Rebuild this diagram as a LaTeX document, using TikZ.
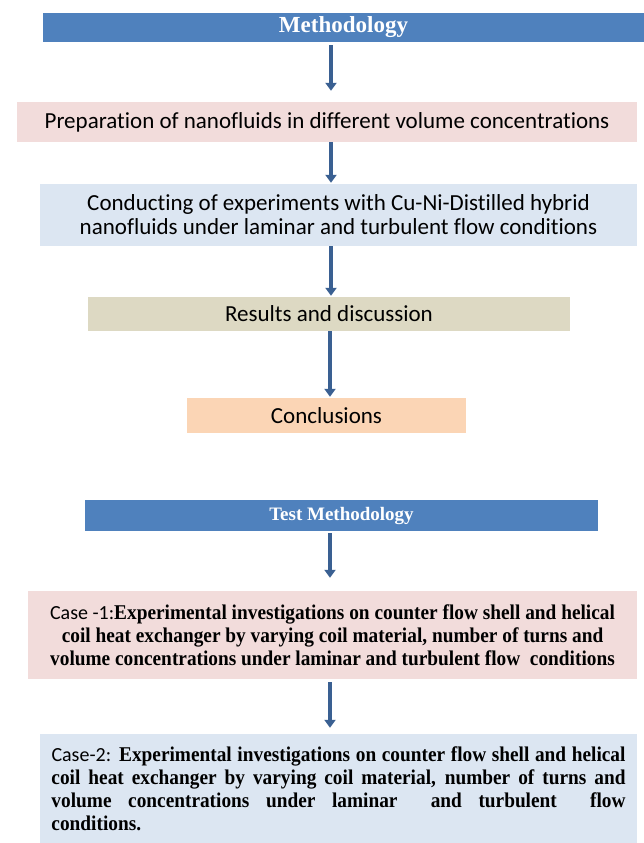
\documentclass[tikz,border=0pt]{standalone}
\usepackage{fontspec}
\setmainfont{Liberation Serif}
\newfontfamily\calfont[Ligatures=NoCommon]{Carlito}
\newfontfamily\casefont[FakeStretch=0.92]{Liberation Serif}
\usetikzlibrary{arrows.meta}
\definecolor{headblue}{RGB}{79,129,189}
\definecolor{arrowblue}{RGB}{58,96,146}
\definecolor{pinkfill}{RGB}{242,220,219}
\definecolor{bluefill}{RGB}{220,230,242}
\definecolor{tanfill}{RGB}{221,217,195}
\definecolor{peachfill}{RGB}{251,213,181}

\begin{document}
\begin{tikzpicture}[
    x=1pt,y=-1pt,
    head/.style={rectangle,fill=headblue,text=white,inner sep=0pt,
      font=\bfseries\fontsize{19}{22}\selectfont},
    stage/.style={rectangle,inner sep=0pt,align=center,
      font=\calfont\fontsize{23}{24}\selectfont},
    casebox/.style={rectangle,inner sep=0pt,
      font=\casefont\bfseries\fontsize{21}{23}\selectfont},
    arrow/.style={-{Triangle[width=11pt,length=8pt]},line width=3.5pt,draw=arrowblue}
  ]
    \useasboundingbox (0,0) rectangle (644,843);
    % upper flow
    \node[head,minimum width=601pt,minimum height=29pt,font=\bfseries\fontsize{23}{24}\selectfont] (meth) at (343.5,27.5) {Methodology};
    \node[stage,fill=pinkfill,minimum width=620pt,minimum height=40pt] (prep) at (327,122)
      {Preparation of nanofluids in different volume concentrations};
    \node[stage,fill=bluefill,minimum width=597pt,minimum height=62pt] (cond) at (338.5,215)
      {Conducting of experiments with Cu-Ni-Distilled hybrid\\nanofluids under laminar and turbulent flow conditions};
    \node[stage,fill=tanfill,minimum width=482pt,minimum height=34pt] (res) at (329,314)
      {Results and discussion};
    \node[stage,fill=peachfill,minimum width=279pt,minimum height=35pt] (concl) at (326.5,415.5)
      {Conclusions};
    % lower flow
    \node[head,minimum width=513pt,minimum height=31pt] (test) at (341.5,515.5) {Test Methodology};
    \node[casebox,fill=pinkfill,minimum width=609pt,minimum height=88pt,align=center] (case1) at (332.5,635)
      {{\calfont\mdseries\fontsize{20}{23}\selectfont Case -1:}Experimental investigations on counter flow shell and helical\\
       coil heat exchanger by varying coil material, number of turns and\\
       volume concentrations under laminar and turbulent flow\ \ conditions};
    \node[casebox,fill=bluefill,minimum width=597pt,minimum height=109pt,text width=574pt,align=justify] (case2) at (338.5,788.5)
      {{\calfont\mdseries\fontsize{20}{23}\selectfont Case-2:} Experimental investigations on counter flow shell and helical\linebreak
       coil heat exchanger by varying coil material, number of turns and\linebreak
       volume concentrations under laminar\ \ and turbulent\ \ flow\linebreak
       conditions.};
    \coordinate (ax) at (331,0);
    \coordinate (bx) at (330,0);
    \draw[arrow,shorten <=3pt,shorten >=11pt] (meth.south -| ax) -- (prep.north -| ax);
    \draw[arrow,shorten >=1pt] (prep.south -| ax) -- (cond.north -| ax);
    \draw[arrow,shorten >=1pt] (cond.south -| ax) -- (res.north -| ax);
    \draw[arrow,shorten >=1pt] (res.south -| bx) -- (concl.north -| bx);
    \draw[arrow,shorten <=2pt,shorten >=13pt] (test.south -| bx) -- (case1.north -| bx);
    \draw[arrow,shorten <=3pt,shorten >=6pt] (case1.south -| bx) -- (case2.north -| bx);
  \end{tikzpicture}
\end{document}
